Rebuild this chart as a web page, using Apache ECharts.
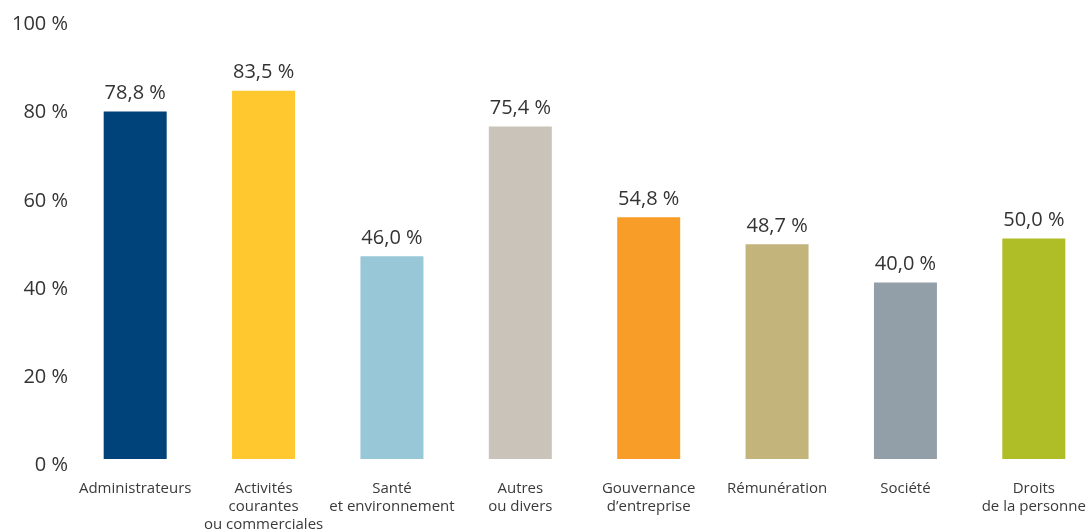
<!DOCTYPE html>
<html>
<head>
<meta charset="utf-8">
<script src="https://cdn.jsdelivr.net/npm/echarts@6/dist/echarts.min.js"></script>
<style>
html,body{margin:0;padding:0;background:#fff;}
#chart{width:1089px;height:529px;}
</style>
</head>
<body>
<div id="chart"></div>
<script>
var categories = [
  "Administrateurs",
  "Activités\ncourantes\nou commerciales",
  "Santé\net environnement",
  "Autres\nou divers",
  "Gouvernance\nd’entreprise",
  "Rémunération",
  "Société",
  "Droits\nde la personne"
];
var values = [78.8, 83.5, 46.0, 75.4, 54.8, 48.7, 40.0, 50.0];
var colors = ["#00427A", "#FFC82E", "#98C8D7", "#CAC3BA", "#F99D29", "#C3B47B", "#939FA8", "#AFBD26"];
var yTicks = [0, 20, 40, 60, 80, 100];

var chart = echarts.init(document.getElementById('chart'), null, {renderer: 'canvas'});
var font = "'Open Sans', sans-serif";
chart.setOption({
  animation: false,
  backgroundColor: '#ffffff',
  grid: {left: 71, top: 18, bottom: 70, width: 1027, containLabel: false, outerBoundsMode: 'none'},
  xAxis: {
    type: 'category',
    data: categories,
    axisLine: {show: false},
    axisTick: {show: false},
    axisLabel: {
      interval: 0,
      margin: 21,
      fontFamily: font,
      fontSize: 15,
      lineHeight: 18,
      color: '#3a3a3a',
      align: 'center'
    }
  },
  yAxis: {
    type: 'value',
    min: 0,
    max: 100,
    interval: 20,
    splitLine: {show: false},
    axisLine: {show: false},
    axisTick: {show: false},
    axisLabel: {
      margin: 3,
      fontFamily: font,
      fontSize: 20,
      color: '#333333',
      formatter: function (v) { return yTicks.indexOf(v) >= 0 ? '{a|' + v + ' %}' : ''; },
      rich: {
        a: {fontFamily: font, fontSize: 20, color: '#333333', padding: [13, 0, 0, 0]}
      }
    }
  },
  series: [{
    type: 'bar',
    barWidth: 63,
    data: values.map(function (v, i) {
      return {value: v, itemStyle: {color: colors[i]}};
    }),
    label: {
      show: true,
      position: 'top',
      distance: 8,
      fontFamily: font,
      fontSize: 20,
      color: '#333333',
      formatter: function (p) { return p.value.toFixed(1).replace('.', ',') + ' %'; }
    }
  }]
});
</script>
</body>
</html>
